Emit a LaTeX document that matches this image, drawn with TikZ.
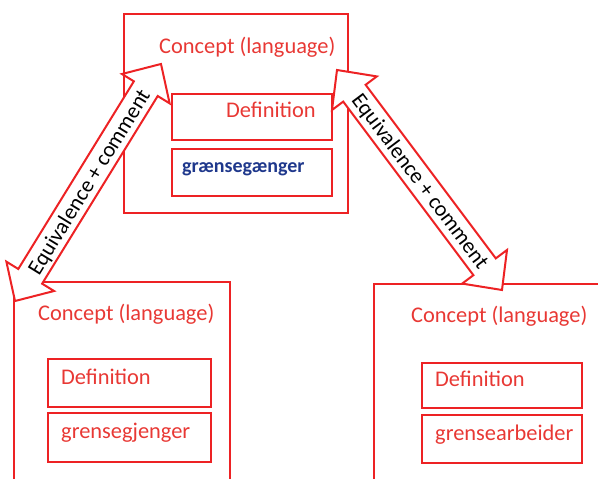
\documentclass[tikz,border=0pt]{standalone}
\usepackage{fontspec}
\setmainfont{Carlito}
\definecolor{boxred}{RGB}{237,34,36}
\definecolor{textred}{RGB}{232,56,52}
\definecolor{termblue}{RGB}{31,56,140}
\begin{document}
\begin{tikzpicture}[x=1pt,y=-1pt,
  box/.style={draw=boxred,line width=2.8pt,rectangle,inner sep=0pt,outer sep=0pt,anchor=north west},
  lab/.style={inner sep=0pt,anchor=base west,text=textred,font=\fontsize{22.4}{26}\selectfont},
  term/.style={lab,text=termblue,font=\fontsize{20}{24}\selectfont\bfseries},
  blockarrow/.style={draw=boxred,line width=2pt,fill=white,line join=miter},
  arrowtext/.style={inner sep=0pt,text=black,font=\fontsize{22}{26}\selectfont}]
\useasboundingbox (0,0) rectangle (598,479);
\clip (0,0) rectangle (598,479);
% boxes
\node[box,minimum width=224pt,minimum height=199pt] (top) at (124,14) {};
\node[box,minimum width=160pt,minimum height=46pt] (topdef) at (172,94) {};
\node[box,minimum width=160pt,minimum height=47pt] (topterm) at (172,149) {};
\node[box,minimum width=216pt,minimum height=220pt] (bl) at (14,282) {};
\node[box,minimum width=163pt,minimum height=48pt] (bldef) at (48,359) {};
\node[box,minimum width=163pt,minimum height=49pt] (blterm) at (48,413) {};
\node[box,minimum width=240pt,minimum height=220pt] (br) at (374,284) {};
\node[box,minimum width=160pt,minimum height=45pt] (brdef) at (422,363) {};
\node[box,minimum width=160pt,minimum height=48pt] (brterm) at (422,415) {};
% texts
\node[lab] (topc) at (159,53) {Concept (language)};
\node[lab] (topd) at (226,117) {Definition};
\node[term] (topt) at (182,172) {grænsegænger};
\node[lab] (blc) at (38,320) {Concept (language)};
\node[lab] (bld) at (61,384) {Definition};
\node[lab] (blt) at (61,438) {grensegjenger};
\node[lab] (brc) at (411,322) {Concept (language)};
\node[lab] (brd) at (435,386) {Definition};
\node[lab] (brt) at (435,440) {grensearbeider};
% block arrows
\begin{scope}[shift={(88,182.5)},rotate=58.37]
\draw[blockarrow] (-139.2,0) -- (-110.2,28) -- (-110.2,14) -- (110.2,14) -- (110.2,28) -- (139.2,0)
  -- (110.2,-28) -- (110.2,-14) -- (-110.2,-14) -- (-110.2,-28) -- cycle;
\end{scope}
\node[arrowtext,rotate=58.37] (leftlab) at (90,182.5) {Equivalence + comment};
\begin{scope}[shift={(419.5,180)},rotate=-53.13]
\draw[blockarrow] (-137.5,0) -- (-108.5,28) -- (-108.5,14) -- (108.5,14) -- (108.5,28) -- (137.5,0)
  -- (108.5,-28) -- (108.5,-14) -- (-108.5,-14) -- (-108.5,-28) -- cycle;
\end{scope}
\node[arrowtext,rotate=-53.13] (rightlab) at (419.5,182) {Equivalence + comment};
\end{tikzpicture}
\end{document}
